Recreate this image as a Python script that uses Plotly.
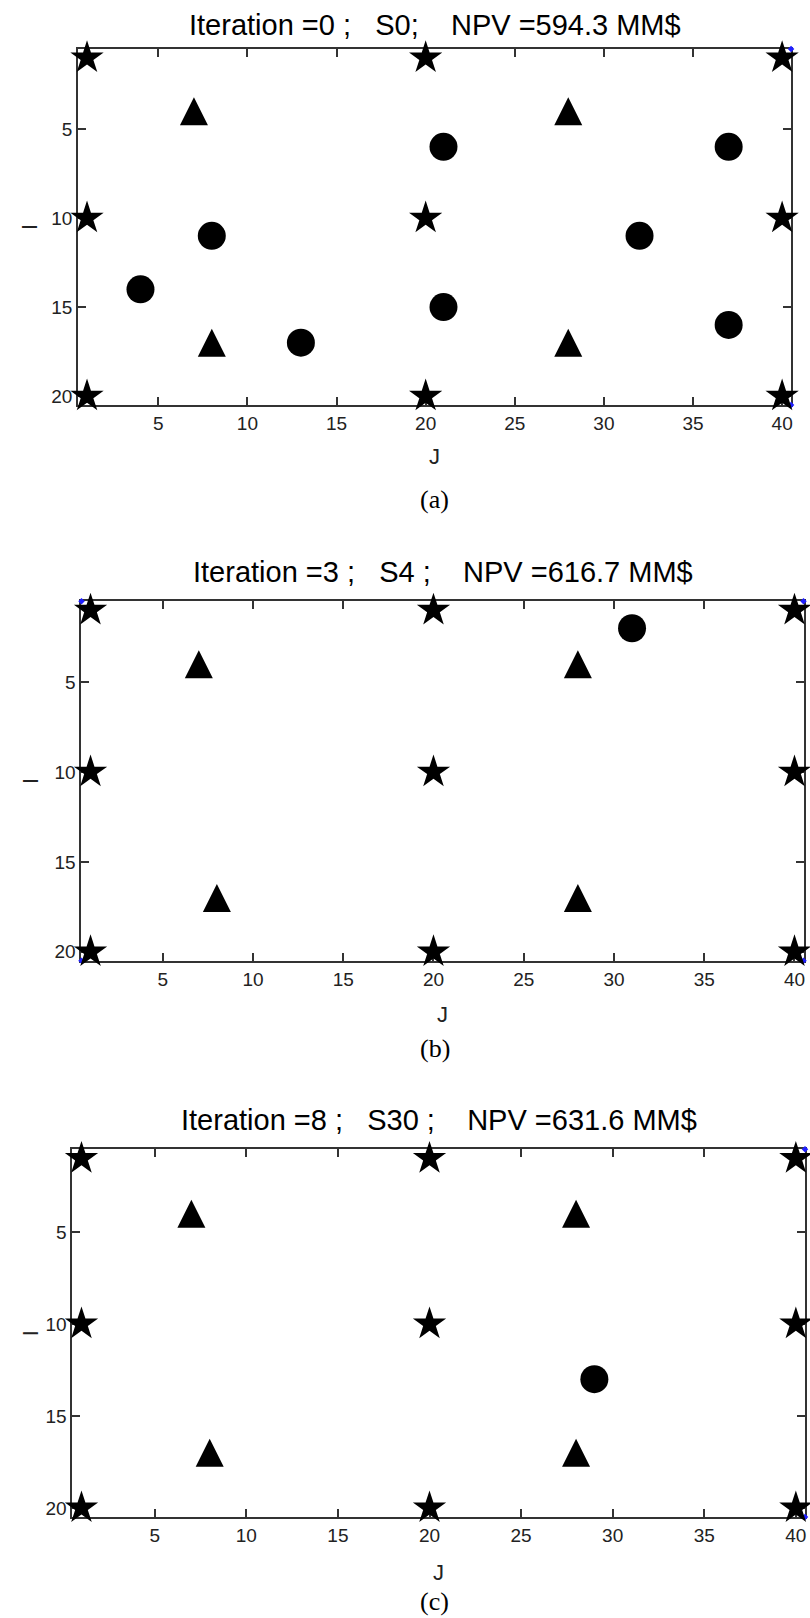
import plotly.graph_objects as go

# ---------------- data ----------------
titles = [
    "Iteration =0 ;\u00a0\u00a0\u00a0S0;\u00a0\u00a0\u00a0\u00a0NPV =594.3 MM$",
    "Iteration =3 ;\u00a0\u00a0\u00a0S4 ;\u00a0\u00a0\u00a0\u00a0NPV =616.7 MM$",
    "Iteration =8 ;\u00a0\u00a0\u00a0S30 ;\u00a0\u00a0\u00a0\u00a0NPV =631.6 MM$",
]
panel_labels = ["(a)", "(b)", "(c)"]

# injector wells (stars) - same in all panels
star_j = [1, 20, 40, 1, 20, 40, 1, 20, 40]
star_i = [1, 1, 1, 10, 10, 10, 20, 20, 20]

# triangles - same in all panels
tri_j = [7, 28, 8, 28]
tri_i = [4, 4, 17, 17]

# circles per panel
circ_j_a = [21, 37, 8, 32, 4, 21, 37, 13]
circ_i_a = [6, 6, 11, 11, 14, 15, 16, 17]
circ_j_b = [31]
circ_i_b = [2]
circ_j_c = [29]
circ_i_c = [13]

# small blue grid-corner points
blue_j_a = [40.5, 40.5]
blue_i_a = [0.5, 20.5]
blue_j_b = [0.5, 40.5, 0.5, 40.5]
blue_i_b = [0.5, 0.5, 20.5, 20.5]
blue_j_c = [40.5, 40.5]
blue_i_c = [0.5, 20.5]

x_ticks = [5, 10, 15, 20, 25, 30, 35, 40]
y_ticks = [5, 10, 15, 20]

circles = [(circ_j_a, circ_i_a), (circ_j_b, circ_i_b), (circ_j_c, circ_i_c)]
blues = [(blue_j_a, blue_i_a), (blue_j_b, blue_i_b), (blue_j_c, blue_i_c)]

# ---------------- layout geometry (pixels) ----------------
W, H = 810, 1618
boxes = [  # left, right, top, bottom
    (78.3, 793.0, 49.0, 405.5),
    (81.7, 805.5, 602.0, 962.0),
    (72.5, 807.0, 1150.7, 1519.0),
]
title_y = [25, 572.5, 1121.5]
jlabel_y = [457, 1015.6, 1574]
plabel_y = [500, 1050, 1603]

TRI_SIZE = 28


def px(x):
    return x / W


def py(y):
    return 1 - y / H


fig = go.Figure()
annotations = []
axis_color = "#333333"

for k in range(3):
    xa = "x" if k == 0 else f"x{k+1}"
    ya = "y" if k == 0 else f"y{k+1}"
    cj, ci = circles[k]
    bj, bi = blues[k]
    fig.add_trace(go.Scatter(x=bj, y=bi, mode="markers", xaxis=xa, yaxis=ya,
                             marker=dict(symbol="diamond", size=5, color="#1f1fff"),
                             cliponaxis=False, showlegend=False, hoverinfo="skip"))
    fig.add_trace(go.Scatter(x=star_j, y=star_i, mode="markers", xaxis=xa, yaxis=ya,
                             marker=dict(symbol="star", size=25, color="black"),
                             cliponaxis=False, showlegend=False))
    # equilateral-looking up triangle: downward arrow rotated 180 deg, centred via standoff
    fig.add_trace(go.Scatter(x=tri_j, y=tri_i, mode="markers", xaxis=xa, yaxis=ya,
                             marker=dict(symbol="arrow-down", size=TRI_SIZE, color="black",
                                         angle=180, standoff=TRI_SIZE / 2),
                             cliponaxis=False, showlegend=False))
    fig.add_trace(go.Scatter(x=cj, y=ci, mode="markers", xaxis=xa, yaxis=ya,
                             marker=dict(symbol="circle", size=28, color="black"),
                             cliponaxis=False, showlegend=False))

    l, r, t, b = boxes[k]
    axcommon = dict(showline=True, linecolor=axis_color, linewidth=2, mirror="ticks",
                    ticks="inside", ticklen=8, tickwidth=1.5, tickcolor=axis_color,
                    showgrid=False, zeroline=False, layer="below traces",
                    tickfont=dict(family="Liberation Sans, Arial, sans-serif", size=19, color="#222222"))
    fig.update_layout(**{
        ("xaxis" if k == 0 else f"xaxis{k+1}"): dict(
            domain=[px(l), px(r)], range=[0.5, 40.5], tickvals=x_ticks,
            anchor=ya, **axcommon),
        ("yaxis" if k == 0 else f"yaxis{k+1}"): dict(
            domain=[py(b), py(t)], range=[20.5, 0.5], tickvals=y_ticks,
            anchor=xa, **axcommon),
    })
    cx = (l + r) / 2
    annotations.append(dict(text=titles[k], x=px(cx), y=py(title_y[k]), xref="paper", yref="paper",
                            showarrow=False, xanchor="center", yanchor="middle",
                            font=dict(family="Liberation Sans, Arial, sans-serif", size=29, color="black")))
    annotations.append(dict(text="J", x=px(cx), y=py(jlabel_y[k]), xref="paper", yref="paper",
                            showarrow=False, xanchor="center", yanchor="middle",
                            font=dict(family="Liberation Sans, Arial, sans-serif", size=22, color="#222222")))
    annotations.append(dict(text="I", x=px(30), y=py((t + b) / 2), xref="paper", yref="paper",
                            showarrow=False, xanchor="center", yanchor="middle", textangle=-90,
                            font=dict(family="Liberation Sans, Arial, sans-serif", size=22, color="#222222")))
    annotations.append(dict(text=panel_labels[k], x=px(436), y=py(plabel_y[k]), xref="paper", yref="paper",
                            showarrow=False, xanchor="center", yanchor="middle",
                            font=dict(family="Liberation Serif, Times New Roman, serif", size=26, color="black")))

fig.update_layout(width=W, height=H, autosize=False,
                  margin=dict(l=0, r=0, t=0, b=0),
                  paper_bgcolor="white", plot_bgcolor="white",
                  annotations=annotations)

fig.write_html("out.html")
